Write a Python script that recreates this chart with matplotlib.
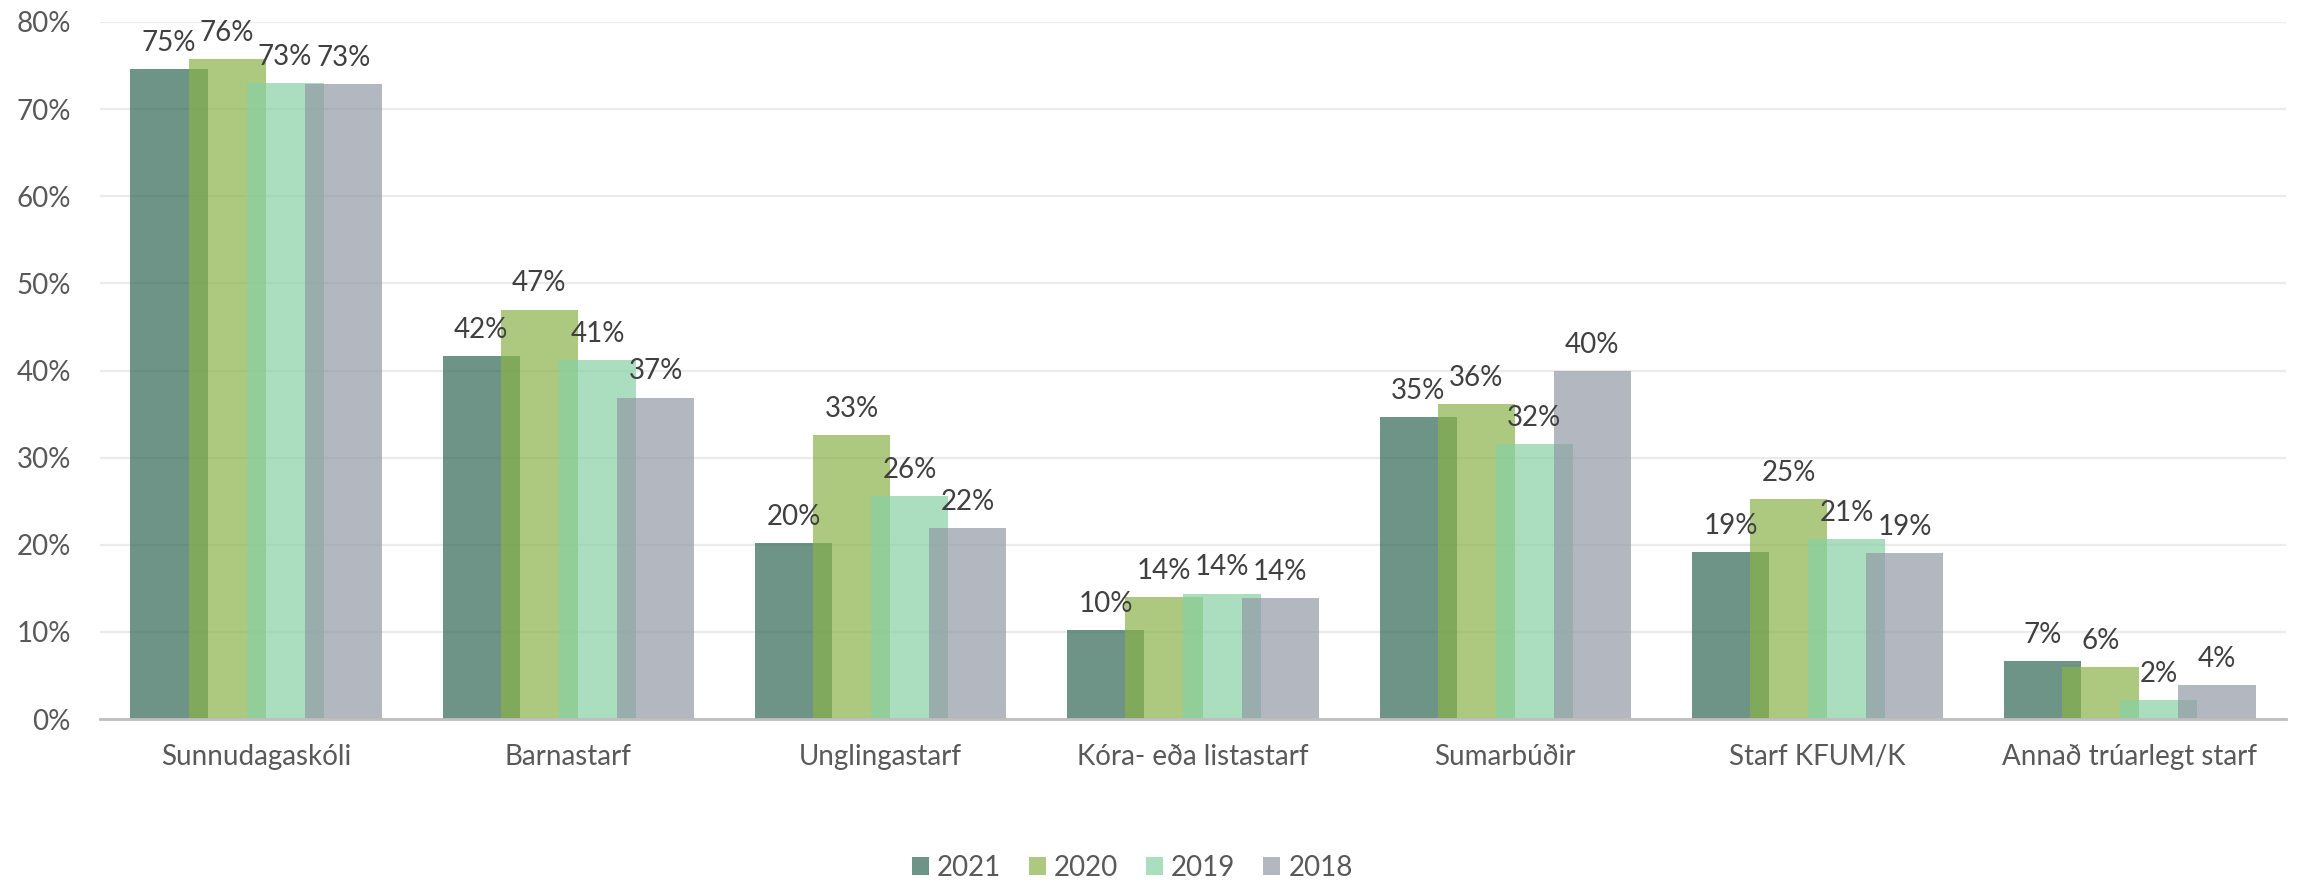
import matplotlib
matplotlib.use("Agg")
import matplotlib.pyplot as plt
import numpy as np
from matplotlib.ticker import FuncFormatter

plt.rcParams['font.family'] = ['Lato', 'DejaVu Sans']

categories = ["Sunnudagaskóli", "Barnastarf", "Unglingastarf", "Kóra- eða listastarf",
              "Sumarbúðir", "Starf KFUM/K", "Annað trúarlegt starf"]
years = ["2021", "2020", "2019", "2018"]
v2021 = [74.6, 41.7, 20.2, 10.2, 34.7, 19.2, 6.6]
v2020 = [75.8, 47.0, 32.6, 14.0, 36.1, 25.2, 6.0]
v2019 = [73.0, 41.2, 25.6, 14.4, 31.6, 20.7, 2.2]
v2018 = [72.9, 36.9, 21.9, 13.9, 39.9, 19.0, 3.9]
series = [v2021, v2020, v2019, v2018]
colors = ["#316554", "#8AB34A", "#86D1A5", "#9299A6"]
ALPHA = 0.7

fig = plt.figure(figsize=(23.03, 8.83), dpi=100)
ax = fig.add_axes([100 / 2303, 1 - 719 / 883, 2186 / 2303, (719 - 22) / 883])

x = np.arange(len(categories))
step = 0.186
width = 0.247
handles = []
for i, (vals, col, yr) in enumerate(zip(series, colors, years)):
    pos = x + (i - 1.5) * step
    bars = ax.bar(pos, vals, width=width, color=col, alpha=ALPHA, zorder=2 + i,
                  label=yr, linewidth=0)
    handles.append(bars)
    for px, v in zip(pos, vals):
        ax.annotate(f"{int(v + 0.5)}%", (px, v), xytext=(0, 13), textcoords="offset points",
                    ha="center", va="baseline", fontsize=20, color="#404040",
                    zorder=10, annotation_clip=False)

ax.set_xlim(-0.5, len(categories) - 0.5)
ax.set_ylim(0, 80)
ax.set_yticks(np.arange(0, 81, 10))
ax.yaxis.set_major_formatter(FuncFormatter(lambda v, p: f"{v:.0f}%"))
ax.set_xticks(x)
ax.set_xticklabels(categories)
ax.tick_params(axis="both", length=0, labelsize=20, labelcolor="#595959")
ax.tick_params(axis="y", pad=21)
ax.tick_params(axis="x", pad=18)
ax.grid(axis="y", color="#ebebeb", linewidth=1.6, zorder=0)
ax.set_axisbelow(True)
for s in ["top", "right", "left"]:
    ax.spines[s].set_visible(False)
ax.spines["bottom"].set_color("#bfbfbf")
ax.spines["bottom"].set_linewidth(2)
ax.spines["bottom"].set_zorder(20)

leg = fig.legend(handles=handles, labels=years, loc="center",
                 bbox_to_anchor=(0.4917, 1 - 868 / 883), ncol=4, frameon=False,
                 fontsize=20, handlelength=0.6, handleheight=0.6, handletextpad=0.3,
                 columnspacing=1.0, labelcolor="#595959")

fig.savefig("out.png", dpi=100)
